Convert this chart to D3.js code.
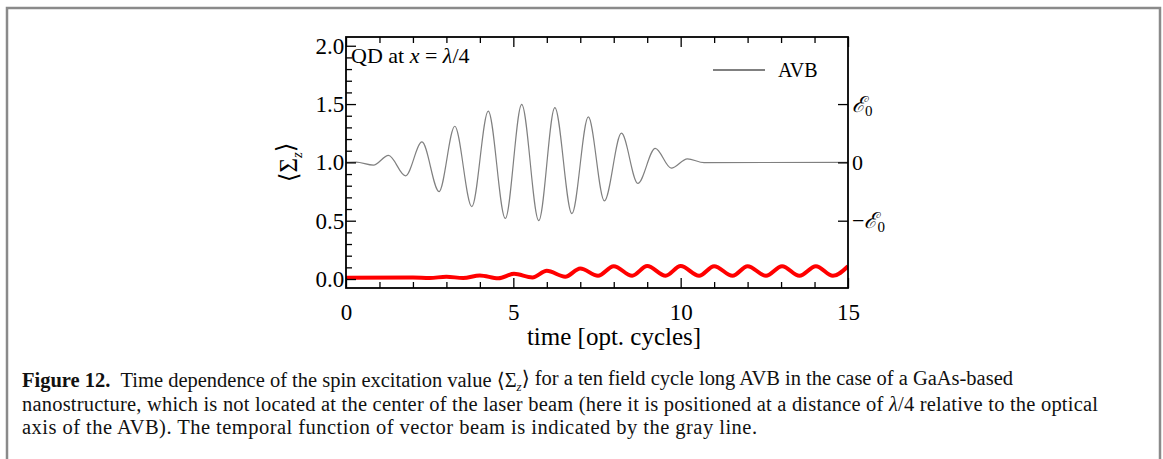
<!DOCTYPE html>
<html><head><meta charset="utf-8">
<script src="https://cdn.jsdelivr.net/npm/d3@7"></script>
<style>body{margin:0;background:#fff}svg{display:block}</style>
</head><body>
<svg id="c" width="1163" height="459"></svg>
<script>
// AVB field (gray), shifted to baseline 1.0 — extrema
const avbT = [0, 0.3, 0.82, 1.27, 1.78, 2.27, 2.78, 3.25, 3.76, 4.25, 4.76, 5.25, 5.76, 6.24, 6.75, 7.24, 7.72, 8.23, 8.72, 9.24, 9.72, 10.2, 10.7, 15];
const avbV = [1.0, 1.003, 0.977, 1.06, 0.885, 1.175, 0.75, 1.31, 0.62, 1.44, 0.52, 1.497, 0.50, 1.47, 0.56, 1.39, 0.67, 1.25, 0.82, 1.12, 0.95, 1.03, 0.998, 1.0];
// spin excitation <Sigma_z> (red)
const spinT = [0, 2.0, 2.5, 3.0, 3.5, 4.0, 4.55, 5.02, 5.57, 6.0, 6.55, 7.0, 7.53, 8.0, 8.55, 9.0, 9.55, 10.0, 10.55, 11.0, 11.55, 12.0, 12.55, 13.03, 13.55, 14.04, 14.55, 15];
const spinV = [0.01, 0.012, 0.008, 0.02, 0.008, 0.031, 0.006, 0.045, 0.014, 0.07, 0.02, 0.09, 0.028, 0.11, 0.028, 0.111, 0.028, 0.111, 0.028, 0.11, 0.028, 0.11, 0.028, 0.11, 0.028, 0.11, 0.028, 0.11];
const xMajor = [0, 5, 10, 15];
const yMajor = [0.0, 0.5, 1.0, 1.5, 2.0];
const yMajorLabels = ["0.0", "0.5", "1.0", "1.5", "2.0"];
const rightTicks = [0.5, 1.0, 1.5];
const legendLabel = "AVB";
const captionLines = [
  "Time dependence of the spin excitation value \u27E8\u03A3<z>\u27E9 for a ten field cycle long AVB in the case of a GaAs-based",
  "nanostructure, which is not located at the center of the laser beam (here it is positioned at a distance of \u03BB/4 relative to the optical",
  "axis of the AVB). The temporal function of vector beam is indicated by the gray line."
];

const svg = d3.select("#c");
const L = 346, R = 848, T = 37, B = 288;
const x = d3.scaleLinear().domain([0, 15]).range([L, R]);
const y = d3.scaleLinear().domain([-0.077, 2.075]).range([B, T]);
const serif = "'Liberation Serif', 'DejaVu Serif', serif";

// outer frame
svg.append("path").attr("d", "M7,459 V8 H1160 V459").attr("fill", "none").attr("stroke", "#8a8a8a").attr("stroke-width", 2.5);

const g = svg.append("g");
g.append("defs").append("clipPath").attr("id", "pc").append("rect")
  .attr("x", L).attr("y", T).attr("width", R - L).attr("height", B - T);

const line = d3.line().curve(d3.curveMonotoneX).x(d => x(d[0])).y(d => y(d[1]));
g.append("path").datum(avbT.map((t, i) => [t, avbV[i]])).attr("d", line)
  .attr("fill", "none").attr("stroke", "#808080").attr("stroke-width", 1.2).attr("clip-path", "url(#pc)");
g.append("path").datum(spinT.map((t, i) => [t, spinV[i]])).attr("d", line)
  .attr("fill", "none").attr("stroke", "#ff0000").attr("stroke-width", 4).attr("clip-path", "url(#pc)");

// axes (inward ticks)
const tickStyle = s => s.attr("stroke", "#000").attr("stroke-width", 1.3);
const xMinor = d3.range(0, 16, 1).filter(v => !xMajor.includes(v));
const yMinor = d3.range(0, 2.05, 0.1).map(v => +v.toFixed(1)).filter(v => !yMajor.includes(v));

const axB = g.append("g").attr("transform", `translate(0,${B})`)
  .call(d3.axisBottom(x).tickValues(xMajor).tickSizeInner(-10).tickSizeOuter(0).tickPadding(16).tickFormat(d3.format("d")));
const axBm = g.append("g").attr("transform", `translate(0,${B})`)
  .call(d3.axisBottom(x).tickValues(xMinor).tickSizeInner(-6).tickSizeOuter(0).tickFormat(""));
const axT = g.append("g").attr("transform", `translate(0,${T})`)
  .call(d3.axisTop(x).tickValues(xMajor).tickSizeInner(-10).tickSizeOuter(0).tickFormat(""));
const axTm = g.append("g").attr("transform", `translate(0,${T})`)
  .call(d3.axisTop(x).tickValues(xMinor).tickSizeInner(-6).tickSizeOuter(0).tickFormat(""));
const axL = g.append("g").attr("transform", `translate(${L},0)`)
  .call(d3.axisLeft(y).tickValues(yMajor).tickSizeInner(-10).tickSizeOuter(0).tickPadding(4).tickFormat((d, i) => yMajorLabels[i]));
const axLm = g.append("g").attr("transform", `translate(${L},0)`)
  .call(d3.axisLeft(y).tickValues(yMinor).tickSizeInner(-6).tickSizeOuter(0).tickFormat(""));
const axR = g.append("g").attr("transform", `translate(${R},0)`)
  .call(d3.axisRight(y).tickValues(rightTicks).tickSizeInner(-10).tickSizeOuter(0).tickPadding(4).tickFormat(""));

[axB, axBm, axT, axTm, axL, axLm, axR].forEach(a => {
  a.select(".domain").remove();
  a.selectAll("line").call(tickStyle);
  a.selectAll("text").attr("font-family", serif).attr("font-size", 23).attr("fill", "#000");
});
axL.selectAll("text").attr("dx", "0.1em");

// right axis labels with script E
const rl = g.append("g").attr("font-family", serif).attr("font-size", 22);
const rlab = [[1.5, "+"], [1.0, "0"], [0.5, "-"]];
rlab.forEach(([v, k]) => {
  const t = rl.append("text").attr("x", R + 4).attr("y", y(v)).attr("dy", "0.35em");
  if (k === "0") { t.text("0"); return; }
  if (k === "-") t.append("tspan").text("\u2212");
  t.append("tspan").attr("font-style", "italic").text("\u2130");
  t.append("tspan").attr("font-size", 15).attr("dy", "0.25em").text("0");
});

// frame box
g.append("rect").attr("x", L).attr("y", T).attr("width", R - L).attr("height", B - T)
  .attr("fill", "none").attr("stroke", "#000").attr("stroke-width", 1.8);

// y axis label
const yl = g.append("text").attr("transform", `translate(297,${y(1.0)}) rotate(-90)`)
  .attr("text-anchor", "middle").attr("font-family", serif).attr("font-size", 25);
yl.append("tspan").text("\u27E8\u03A3");
yl.append("tspan").attr("font-style", "italic").attr("font-size", 15).attr("dy", "0.3em").text("z");
yl.append("tspan").attr("dy", "-0.3em").text("\u27E9");

// x axis label
g.append("text").attr("x", (L + R) / 2 + 17).attr("y", 345).attr("text-anchor", "middle")
  .attr("font-family", serif).attr("font-size", 25).text("time [opt. cycles]");

// annotation
const ann = g.append("text").attr("x", L + 5).attr("y", 63).attr("font-family", serif).attr("font-size", 22);
ann.append("tspan").text("QD at ");
ann.append("tspan").attr("font-style", "italic").text("x");
ann.append("tspan").text(" = ");
ann.append("tspan").attr("font-style", "italic").text("\u03BB");
ann.append("tspan").text("/4");

// legend
g.append("line").attr("x1", 713).attr("x2", 765).attr("y1", 70).attr("y2", 70)
  .attr("stroke", "#808080").attr("stroke-width", 2);
g.append("text").attr("x", 778).attr("y", 70).attr("dy", "0.35em").attr("font-family", serif)
  .attr("font-size", 20).text(legendLabel);

// caption
const cap = svg.append("g").attr("font-family", serif).attr("font-size", 20.5).attr("fill", "#111");
const capX = [22, 22, 22], capY = [387, 411, 434], capW = [991, 1076, 735];
captionLines.forEach((s, i) => {
  const t = cap.append("text").attr("x", capX[i]).attr("y", capY[i]);
  if (i === 0) {
    t.append("tspan").attr("font-weight", "bold").text("Figure 12.");
    t.append("tspan").text("\u2002");
    const parts = s.split("<z>");
    t.append("tspan").text(parts[0]);
    t.append("tspan").attr("font-size", 13).attr("font-style", "italic").attr("dy", "0.3em").text("z");
    t.append("tspan").attr("dy", "-0.3em").text(parts[1]);
  } else {
    const parts = s.split("\u03BB");
    t.append("tspan").text(parts[0]);
    if (parts.length > 1) {
      t.append("tspan").attr("font-style", "italic").text("\u03BB");
      t.append("tspan").text(parts[1]);
    }
  }
  t.attr("textLength", capW[i]).attr("lengthAdjust", "spacing");
});
</script>
</body></html>
